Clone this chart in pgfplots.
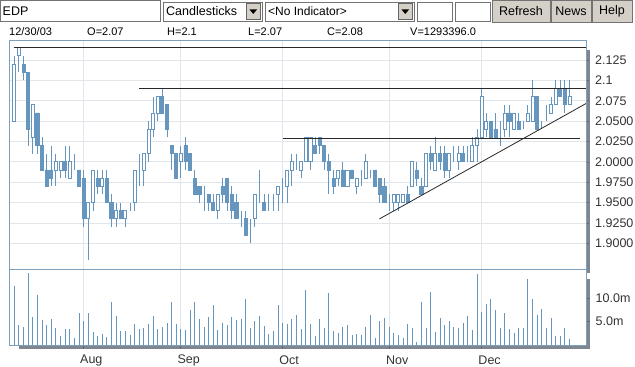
\documentclass[border=0pt]{standalone}
\usepackage{fontspec}
\setmainfont{Liberation Sans}
\usepackage{pgfplots}
\usepackage{pgfplotstable}
\pgfplotsset{compat=1.18}
\definecolor{candle}{RGB}{102,150,190}
\definecolor{frameblue}{RGB}{125,160,188}
\definecolor{gridgray}{RGB}{226,229,233}
\definecolor{shadow}{RGB}{128,134,144}
\definecolor{btn}{RGB}{212,208,200}
\definecolor{trend}{RGB}{40,40,40}

\pgfplotstableread{
i o h l c v
0 2.05 2.13 2.05 2.12 12.7
1 2.13 2.14 2.11 2.14 4.3
2 2.12 2.13 2.10 2.11 3.9
3 2.11 2.11 2.02 2.04 15.5
4 2.03 2.07 2.01 2.07 5.9
5 2.06 2.06 2.01 2.02 10.7
6 2.02 2.03 1.99 1.99 5.4
7 1.99 2.01 1.97 1.97 4.3
8 1.99 2.02 1.97 1.98 5.6
9 1.99 2.01 1.97 2.00 3.6
10 1.99 2.00 1.98 2.00 1.9
11 2.00 2.02 1.98 1.99 3.4
12 1.98 2.02 1.98 2.00 3.4
13 1.99 2.01 1.99 1.99 1.6
14 1.99 1.99 1.97 1.97 6.9
15 1.98 1.99 1.92 1.93 5.1
16 1.93 1.95 1.88 1.95 6.9
17 1.95 1.99 1.94 1.99 2.8
18 1.98 1.99 1.96 1.97 1.9
19 1.97 1.99 1.96 1.98 2.4
20 1.98 1.99 1.95 1.95 1.7
21 1.95 1.96 1.92 1.93 9.1
22 1.93 1.95 1.92 1.94 6.2
23 1.94 1.95 1.93 1.93 3.1
24 1.93 1.94 1.92 1.94 3.1
25 1.94 1.95 1.94 1.94 2.1
26 1.95 1.99 1.94 1.99 4.5
27 2.00 2.01 1.97 2.00 3.4
28 1.99 2.01 1.97 2.01 3.6
29 2.01 2.05 2.00 2.04 4.5
30 2.04 2.08 2.03 2.06 6.2
31 2.06 2.08 2.05 2.08 3.4
32 2.08 2.09 2.06 2.06 3.9
33 2.07 2.07 2.03 2.04 4.8
34 2.02 2.02 1.99 2.01 9.1
35 2.01 2.01 1.98 1.98 4.5
36 2.00 2.02 1.98 2.01 3.4
37 2.02 2.03 1.99 2.00 3.2
38 2.01 2.01 1.99 1.99 7.5
39 1.98 1.99 1.96 1.96 9.2
40 1.97 1.97 1.95 1.96 5.6
41 1.96 1.97 1.94 1.96 3.9
42 1.96 1.96 1.94 1.95 6.0
43 1.95 1.96 1.94 1.94 8.6
44 1.94 1.96 1.93 1.96 3.2
45 1.97 1.98 1.95 1.96 4.7
46 1.98 1.98 1.94 1.95 4.3
47 1.96 1.97 1.93 1.94 6.0
48 1.95 1.96 1.93 1.93 5.4
49 1.93 1.94 1.92 1.93 5.6
50 1.93 1.94 1.91 1.91 9.9
51 1.92 1.93 1.90 1.92 3.6
52 1.93 1.96 1.92 1.96 5.2
53 1.96 1.99 1.95 1.96 6.2
54 1.95 1.96 1.94 1.94 4.1
55 1.95 1.96 1.94 1.95 2.4
56 1.95 1.96 1.94 1.95 3.0
57 1.96 1.97 1.94 1.97 8.6
58 1.97 1.98 1.95 1.97 4.7
59 1.97 1.99 1.95 1.99 4.5
60 1.99 2.01 1.97 2.00 5.6
61 2.00 2.01 1.99 2.00 6.4
62 1.99 2.00 1.98 2.00 3.4
63 2.00 2.03 2.00 2.03 11.8
64 2.00 2.03 1.99 2.03 4.5
65 2.02 2.03 2.01 2.01 1.9
66 2.03 2.03 2.01 2.02 5.6
67 2.02 2.02 1.99 2.00 3.6
68 2.00 2.01 1.96 1.99 11.2
69 1.98 1.99 1.96 1.97 3.0
70 1.98 1.99 1.97 1.99 2.6
71 1.99 2.00 1.97 1.97 3.9
72 1.97 1.99 1.97 1.99 4.3
73 1.99 1.99 1.98 1.98 2.1
74 1.97 1.98 1.96 1.98 2.4
75 1.98 1.99 1.97 1.98 2.1
76 1.98 2.01 1.98 2.00 3.9
77 1.99 1.99 1.98 1.99 6.4
78 1.99 1.99 1.97 1.97 1.5
79 1.98 1.98 1.95 1.96 5.1
80 1.97 1.98 1.95 1.95 5.8
81 1.95 1.96 1.94 1.95 3.9
82 1.95 1.96 1.94 1.96 2.6
83 1.95 1.96 1.94 1.96 2.1
84 1.95 1.96 1.95 1.96 1.5
85 1.96 1.97 1.95 1.95 4.5
86 1.97 2.00 1.97 2.00 3.6
87 1.99 2.00 1.97 1.98 0.6
88 1.97 1.98 1.96 1.96 9.2
89 1.97 2.01 1.97 2.01 3.6
90 2.01 2.02 1.99 2.00 11.4
91 1.99 2.03 1.99 2.01 2.8
92 2.01 2.02 1.99 2.00 5.8
93 2.01 2.02 1.98 1.99 4.3
94 1.99 2.01 1.98 2.01 5.1
95 2.02 2.02 2.00 2.02 3.9
96 2.00 2.02 1.99 2.01 3.6
97 2.01 2.02 2.00 2.00 4.7
98 2.00 2.02 2.00 2.00 6.2
99 2.00 2.03 2.00 2.02 3.2
100 2.02 2.04 2.00 2.03 15.2
101 2.03 2.09 2.03 2.08 7.1
102 2.04 2.06 2.03 2.05 8.8
103 2.05 2.05 2.03 2.03 9.9
104 2.04 2.06 2.03 2.03 7.5
105 2.04 2.05 2.02 2.04 3.6
106 2.04 2.07 2.03 2.06 6.9
107 2.06 2.07 2.03 2.05 3.4
108 2.04 2.06 2.04 2.06 2.6
109 2.05 2.06 2.04 2.04 3.6
110 2.04 2.05 2.04 2.04 3.6
111 2.05 2.07 2.05 2.06 14.1
112 2.05 2.10 2.05 2.08 9.9
113 2.08 2.08 2.04 2.04 6.4
114 2.04 2.05 2.04 2.04 7.7
115 2.05 2.07 2.05 2.05 3.6
116 2.06 2.08 2.06 2.07 5.8
117 2.07 2.10 2.07 2.09 1.9
118 2.09 2.10 2.08 2.08 1.9
119 2.09 2.10 2.06 2.07 3.6
120 2.07 2.10 2.07 2.08 1.29
}\data

\pgfplotsset{
  chartbase/.style={
    scale only axis, width=576.7pt,
    xmin=-1.08, xmax=123.56,
    anchor=north west,
    clip bounding box=upper bound,
    axis line style={frameblue, line width=0.8pt},
  },
  pricebase/.style={chartbase, at={(9.3pt,-40pt)}, height=229.3pt, ymin=1.8681, ymax=2.1495},
}

\begin{document}
\begin{tikzpicture}
\begin{scope}[x=1pt,y=1pt]
\fill[white] (0,0) rectangle (635,-364);

% ---------- toolbar ----------
\draw[black!55, fill=white, line width=0.8pt] (0.5,-0.5) rectangle (160,-21.5);
\node[anchor=west, inner sep=0pt, font=\fontsize{12.5}{12.5}\selectfont] at (2.5,-11) {EDP};

\draw[black!55, fill=white, line width=0.8pt] (163,-2) rectangle (262,-21);
\node[anchor=west, inner sep=0pt, font=\fontsize{12.5}{12.5}\selectfont] at (166,-11.5) {Candlesticks};
\draw[black!60, fill=btn, line width=0.6pt] (246,-3.5) rectangle (260.5,-19.5);
\fill (249.5,-9.5) -- (257,-9.5) -- (253.25,-14) -- cycle;

\draw[black!55, fill=white, line width=0.8pt] (265,-2) rectangle (414,-21);
\node[anchor=west, inner sep=0pt, font=\fontsize{12}{12}\selectfont] at (268,-11.5) {<No Indicator>};
\draw[black!60, fill=btn, line width=0.6pt] (398,-3.5) rectangle (412.5,-19.5);
\fill (401.5,-9.5) -- (409,-9.5) -- (405.25,-14) -- cycle;

\draw[black!55, fill=white, line width=0.8pt] (417,-2) rectangle (452,-21);
\draw[black!55, fill=white, line width=0.8pt] (455,-2) rectangle (490,-21);

\draw[black!55, fill=btn, line width=0.6pt] (492,-0.5) rectangle (550,-22);
\node[font=\fontsize{12.5}{12.5}\selectfont] at (521,-11.2) {Refresh};
\draw[black!55, fill=btn, line width=0.6pt] (551,-0.5) rectangle (591,-22);
\node[font=\fontsize{12.5}{12.5}\selectfont] at (571,-11.2) {News};
\draw[black!55, fill=btn, line width=0.6pt] (592,-0.5) rectangle (632,-22);
\node[font=\fontsize{12.5}{12.5}\selectfont] at (612,-11.2) {Help};

% ---------- info row ----------
\begin{scope}[every node/.style={anchor=base west, inner sep=0pt, font=\fontsize{11}{11}\selectfont}]
\node at (9,-35.5) {12/30/03};
\node at (87,-35.5) {O=2.07};
\node at (167,-35.5) {H=2.1};
\node at (248,-35.5) {L=2.07};
\node at (327,-35.5) {C=2.08};
\node at (410,-35.5) {V=1293396.0};
\end{scope}

% ---------- panel shadows ----------
\fill[shadow] (19.3,-50) rectangle (590,-272.8);
\fill[shadow] (19.3,-279) rectangle (590,-348.7);
\fill[white] (9.3,-40) rectangle (586,-345);
\end{scope}

% ---------- price panel: grid, frame, wicks ----------
\begin{axis}[pricebase,
  xtick={14.85,35.88,57.92,80.98,100.93}, xticklabels={},
  xtick style={draw=none},
  xmajorgrids, ymajorgrids, grid style={gridgray, line width=0.7pt},
  ytick={1.9,1.925,1.95,1.975,2.0,2.025,2.05,2.075,2.1,2.125},
  yticklabels={1.9000,1.9250,1.9500,1.9750,2.0000,2.0250,2.0500,2.075,2.1,2.125},
  ytick pos=right, yticklabel pos=right,
  ytick style={black!60, line width=0.6pt},
  tick align=outside, major tick length=3pt,
  yticklabel style={anchor=west, inner sep=0pt, xshift=6pt,
    font=\fontsize{12.5}{12.5}\selectfont, text=black!80},
]
\addplot[draw=none, mark=none,
  error bars/.cd, y dir=plus, y explicit,
  error bar style={candle, line width=0.9pt}, error mark=none]
  table[x=i, y=l, y error expr=\thisrow{h}-\thisrow{l}] {\data};
\end{axis}

% ---------- price panel: candle bodies ----------
\begin{axis}[pricebase, axis lines=none, ticks=none, ybar stacked, bar width=3.1pt]
\addplot[draw=none, fill=none] table[x=i, y expr={min(\thisrow{o},\thisrow{c})}] {\data};
\addplot[draw=candle, fill=candle, line width=0.85pt] table[x=i, y expr={max(\thisrow{o}-\thisrow{c},0)}] {\data};
\addplot[draw=candle, fill=white, line width=0.85pt] table[x=i, y expr={max(\thisrow{c}-\thisrow{o},0)}] {\data};
\end{axis}

% ---------- price panel: trend lines ----------
\begin{axis}[pricebase, axis lines=none, ticks=none]
\addplot[trend, line width=0.9pt, mark=none] coordinates {(-0.06,2.14) (123.56,2.14)};
\addplot[trend, line width=0.9pt, mark=none] coordinates {(27.0,2.09) (123.56,2.09)};
\addplot[trend, line width=0.9pt, mark=none] coordinates {(58.0,2.0285) (122.3,2.0285)};
\addplot[trend, line width=0.8pt, mark=none] coordinates {(78.9,1.9299) (123.56,2.0715)};
\end{axis}

% ---------- volume panel ----------
\begin{axis}[chartbase, at={(9.3pt,-269.3pt)}, height=75.7pt,
  ymin=0, ymax=16.2,
  xtick={14.85,35.88,57.92,80.98,100.93},
  xticklabels={Aug,Sep,Oct,Nov,Dec},
  xtick pos=bottom, ytick pos=right,
  tick align=outside, major tick length=3.5pt,
  tick style={black!60, line width=0.6pt},
  xticklabel style={anchor=west, inner sep=0pt, yshift=-12pt, xshift=-3pt,
    font=\fontsize{12.5}{12.5}\selectfont, text=black!80},
  xmajorgrids, grid style={gridgray, line width=0.7pt},
  ytick={5,10}, yticklabels={5.0m,10.0m}, yticklabel pos=right,
  yticklabel style={anchor=west, inner sep=0pt, xshift=6pt,
    font=\fontsize{12.5}{12.5}\selectfont, text=black!80},
]
\addplot[ycomb, candle, line width=0.9pt, mark=none] table[x=i, y=v] {\data};
\end{axis}
\end{tikzpicture}
\end{document}
